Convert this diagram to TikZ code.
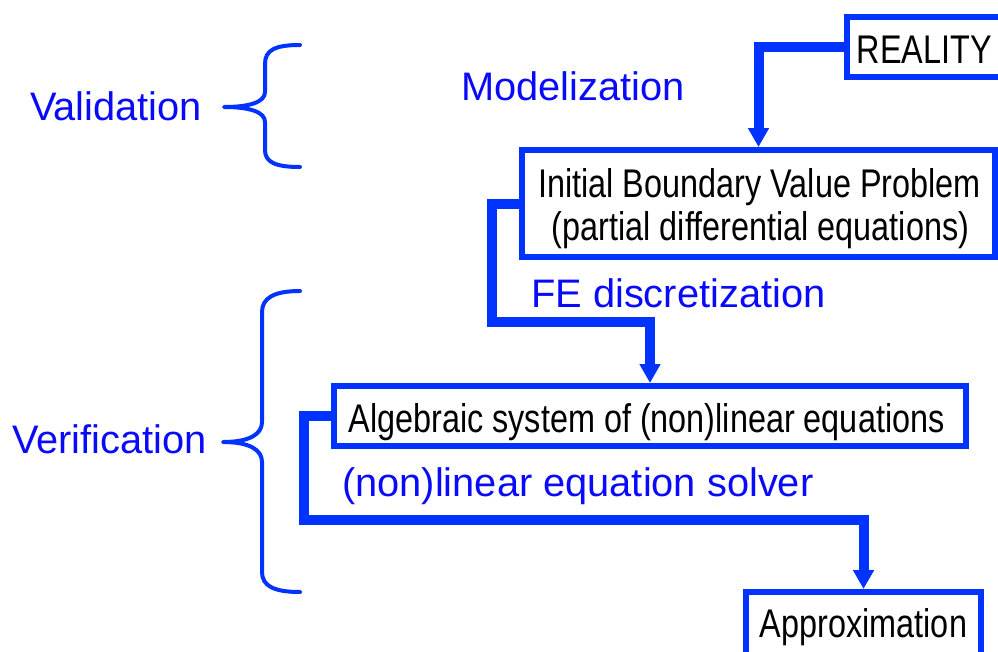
\documentclass[tikz,border=0pt]{standalone}
\usepackage{fontspec}
\setmainfont{Liberation Sans}
\newfontfamily\narrowfont[FakeStretch=0.81]{Liberation Sans}
\usetikzlibrary{arrows.meta}
\definecolor{flowblue}{RGB}{0,51,255}
\definecolor{labelblue}{RGB}{10,10,250}
\tikzset{
  box/.style={draw=flowblue, line width=6pt, rectangle, inner sep=0pt, fill=white},
  boxtext/.style={anchor=base, inner sep=0pt, font=\narrowfont\fontsize{40}{46}\selectfont},
  steplabel/.style={anchor=base west, inner sep=0pt, text=labelblue, font=\fontsize{39.8}{45}\selectfont},
  flow/.style={draw=flowblue, line width=10pt, -{Triangle[width=20pt,length=19pt]}},
  bracket/.style={draw=flowblue, line width=4pt, line cap=round, line join=round},
}
\begin{document}
\begin{tikzpicture}[x=1pt,y=-1pt]
\useasboundingbox (0,0) rectangle (998,651);
\clip (0,0) rectangle (998,651);

% boxes
\node[box, minimum width=155pt, minimum height=60pt]  (reality) at (924.5,47) {};
\node[box, minimum width=473pt, minimum height=107pt] (ibvp)    at (758.5,203.5) {};
\node[box, minimum width=632pt, minimum height=60pt]  (alg)     at (650,416) {};
\node[box, minimum width=235pt, minimum height=66pt]  (approx)  at (863.5,625) {};

% box contents
\node[boxtext] (realityt) at (924.5,63) {REALITY};
\node[boxtext] (ibvpa)    at (759.5,197)  {Initial Boundary Value Problem};
\node[boxtext] (ibvpb)    at (760.5,240)  {(partial differential equations)};
\node[boxtext] (algt)     at (646.5,432) {Algebraic system of (non)linear equations};
\node[boxtext] (approxt)  at (863.5,637) {Approximation};

% step labels
\node[steplabel] (model)  at (461,100) {Modelization};
\node[steplabel] (fe)     at (531,307) {FE discretization};
\node[steplabel] (solver) at (342,496) {(non)linear equation solver};
\node[steplabel] (valid)  at (30,120)  {Validation};
\node[steplabel] (verif)  at (12,453)  {Verification};

% connectors
\coordinate (c1) at (492,322);
\coordinate (c2) at (304,520);
\draw[flow] (reality.west) -| (ibvp.north);
\draw[flow] (ibvp.west) -| (c1) -| (alg.north);
\draw[flow] (alg.west) -| (c2) -| (approx.north);

% braces
\draw[bracket] (300,45) .. controls (275,45) and (265,50) .. (265,64) -- (265,92)
  .. controls (265,102) and (250,107) .. (224,107)
  .. controls (250,107) and (265,112) .. (265,122) -- (265,150)
  .. controls (265,162) and (275,167) .. (300,167);
\draw[bracket] (300,291) .. controls (274,291) and (262,298) .. (262,312) -- (262,422)
  .. controls (262,434) and (250,442) .. (223,442)
  .. controls (250,442) and (262,450) .. (262,462) -- (262,572)
  .. controls (262,586) and (274,592) .. (300,592);
\end{tikzpicture}
\end{document}
